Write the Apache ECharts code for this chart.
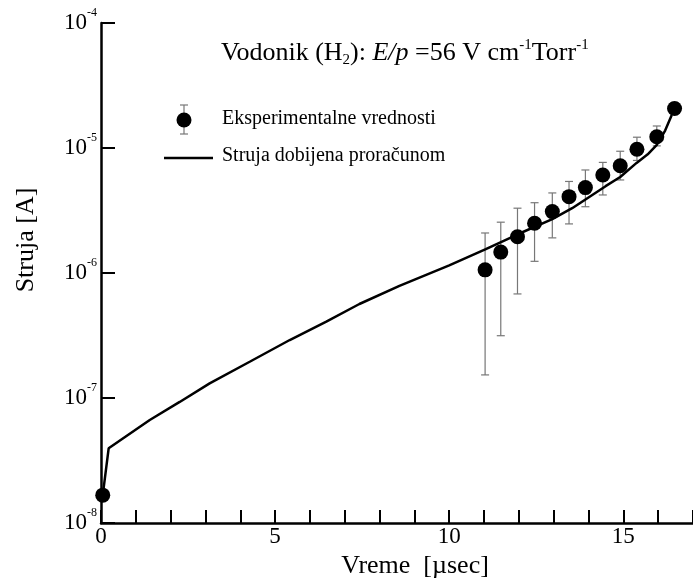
<!DOCTYPE html>
<html>
<head>
<meta charset="utf-8">
<script src="https://cdn.jsdelivr.net/npm/echarts@6/dist/echarts.min.js"></script>
<style>
  html, body { margin: 0; padding: 0; background: #fff; }
  #chart { width: 693px; height: 579px; }
</style>
</head>
<body>
<div id="chart"></div>
<script>
// izracunata struja (linija)
var calcX = [0.05, 0.22, 1.4, 2.26, 3.12, 4.27, 5.42, 6.47, 7.42, 8.57, 10.0, 11.05, 12.0, 12.96, 13.53, 14.49, 14.91, 15.38, 15.7, 15.96, 16.2, 16.39];
var calcY = [1.67e-8, 3.96e-8, 6.67e-8, 9.3e-8, 1.31e-7, 1.95e-7, 2.91e-7, 4.08e-7, 5.65e-7, 7.9e-7, 1.15e-6, 1.55e-6, 2.06e-6, 2.7e-6, 3.3e-6, 4.95e-6, 5.86e-6, 7.6e-6, 8.9e-6, 1.06e-5, 1.38e-5, 1.84e-5];

// eksperimentalne vrednosti
var expX = [0.05, 11.03, 11.48, 11.96, 12.45, 12.96, 13.44, 13.91, 14.41, 14.91, 15.39, 15.96, 16.47];
var expY = [1.67e-8, 1.06e-6, 1.47e-6, 1.95e-6, 2.5e-6, 3.1e-6, 4.08e-6, 4.82e-6, 6.08e-6, 7.22e-6, 9.78e-6, 1.23e-5, 2.07e-5];
var errHi = [null, 2.09e-6, 2.55e-6, 3.3e-6, 3.65e-6, 4.37e-6, 5.4e-6, 6.67e-6, 7.67e-6, 9.42e-6, 1.22e-5, 1.5e-5, 2.3e-5];
var errLo = [null, 1.53e-7, 3.15e-7, 6.8e-7, 1.24e-6, 1.91e-6, 2.47e-6, 3.39e-6, 4.21e-6, 5.55e-6, 7.95e-6, 1.04e-5, 1.9e-5];

var xTickLabels = ['0', '5', '10', '15'];

var FONT = '"Liberation Serif", "Times New Roman", serif';

window.onload = function () {
    var myChart = echarts.init(document.getElementById('chart'));

    var lineData = calcX.map(function (x, i) { return [x, calcY[i]]; });
    var pointData = expX.map(function (x, i) { return [x, expY[i]]; });
    var errData = [];
    expX.forEach(function (x, i) {
        if (errHi[i] != null) errData.push([x, errLo[i], errHi[i]]);
    });

    var option = {
        backgroundColor: '#fff',
        animation: false,
        title: {
            left: 216,
            top: 33,
            text: '{n|Vodonik (H}{sub|2}{n|): }{i|E/p}{n| =56 V cm}{sup|-1}{n|Torr}{sup|-1}',
            textStyle: {
                rich: {
                    n: { fontFamily: FONT, fontSize: 26, fontWeight: 'normal', color: '#000', lineHeight: 30 },
                    i: { fontFamily: FONT, fontSize: 26, fontWeight: 'normal', color: '#000', fontStyle: 'italic', lineHeight: 30 },
                    sub: { fontFamily: FONT, fontSize: 15, fontWeight: 'normal', color: '#000', verticalAlign: 'bottom', lineHeight: 22 },
                    sup: { fontFamily: FONT, fontSize: 15, fontWeight: 'normal', color: '#000', verticalAlign: 'top', lineHeight: 22 }
                }
            }
        },
        grid: { left: 101, right: 0, top: 23, bottom: 56, outerBoundsMode: 'none' },
        xAxis: {
            type: 'value',
            min: 0,
            max: 17,
            interval: 1,
            name: 'Vreme  [\u00b5sec]',
            nameLocation: 'middle',
            nameGap: 25,
            nameTextStyle: { fontFamily: FONT, fontSize: 26, color: '#000', padding: [0, 0, 0, 36] },
            axisLine: { onZero: false, lineStyle: { color: '#000', width: 2.5 } },
            axisTick: { inside: true, length: 13, lineStyle: { color: '#000', width: 2 } },
            axisLabel: {
                margin: 2,
                fontFamily: FONT,
                fontSize: 23,
                color: '#000',
                formatter: function (v) {
                    var s = String(v);
                    return xTickLabels.indexOf(s) >= 0 ? s : '';
                }
            },
            splitLine: { show: false }
        },
        yAxis: {
            type: 'log',
            logBase: 10,
            min: 1e-8,
            max: 1e-4,
            name: 'Struja [A]',
            nameLocation: 'middle',
            nameGap: 62,
            nameTextStyle: { fontFamily: FONT, fontSize: 26, color: '#000', padding: [0, 0, 0, 66] },
            axisLine: { onZero: false, lineStyle: { color: '#000', width: 2.5 } },
            axisTick: { inside: true, length: 14, lineStyle: { color: '#000', width: 2 } },
            axisLabel: {
                margin: 4,
                formatter: function (v) {
                    var e = Math.round(Math.log(v) / Math.LN10);
                    return '{b|10}{s|' + e + '}';
                },
                rich: {
                    b: { fontFamily: FONT, fontSize: 23, color: '#000', lineHeight: 32 },
                    s: { fontFamily: FONT, fontSize: 12, color: '#000', verticalAlign: 'top', lineHeight: 12 }
                }
            },
            splitLine: { show: false }
        },
        series: [
            {
                name: 'Struja dobijena proračunom',
                type: 'line',
                data: lineData,
                showSymbol: false,
                lineStyle: { color: '#000', width: 2.5 },
                z: 3
            },
            {
                type: 'custom',
                data: errData,
                renderItem: function (params, api) {
                    var x = api.value(0);
                    var lo = api.coord([x, api.value(1)]);
                    var hi = api.coord([x, api.value(2)]);
                    var w = 4;
                    var st = { stroke: '#777', lineWidth: 1.2 };
                    return {
                        type: 'group',
                        children: [
                            { type: 'line', shape: { x1: hi[0], y1: hi[1], x2: lo[0], y2: lo[1] }, style: st },
                            { type: 'line', shape: { x1: hi[0] - w, y1: hi[1], x2: hi[0] + w, y2: hi[1] }, style: st },
                            { type: 'line', shape: { x1: lo[0] - w, y1: lo[1], x2: lo[0] + w, y2: lo[1] }, style: st }
                        ]
                    };
                },
                z: 2
            },
            {
                name: 'Eksperimentalne vrednosti',
                type: 'scatter',
                data: pointData,
                symbol: 'circle',
                symbolSize: 15,
                itemStyle: { color: '#000', opacity: 1 },
                z: 4
            }
        ],
        graphic: [
            // legenda
            { type: 'line', shape: { x1: 184, y1: 105, x2: 184, y2: 134 }, style: { stroke: '#777', lineWidth: 1.2 } },
            { type: 'line', shape: { x1: 180, y1: 105, x2: 188, y2: 105 }, style: { stroke: '#777', lineWidth: 1.2 } },
            { type: 'line', shape: { x1: 180, y1: 134, x2: 188, y2: 134 }, style: { stroke: '#777', lineWidth: 1.2 } },
            { type: 'circle', shape: { cx: 184, cy: 120, r: 7.5 }, style: { fill: '#000' } },
            { type: 'text', x: 222, y: 119, style: { text: 'Eksperimentalne vrednosti', font: '20px ' + FONT, fill: '#000', verticalAlign: 'middle' } },
            { type: 'line', shape: { x1: 164, y1: 158, x2: 213, y2: 158 }, style: { stroke: '#000', lineWidth: 2.5 } },
            { type: 'text', x: 222, y: 156, style: { text: 'Struja dobijena proračunom', font: '20px ' + FONT, fill: '#000', verticalAlign: 'middle' } }
        ]
    };

    myChart.setOption(option);
};
</script>
</body>
</html>
